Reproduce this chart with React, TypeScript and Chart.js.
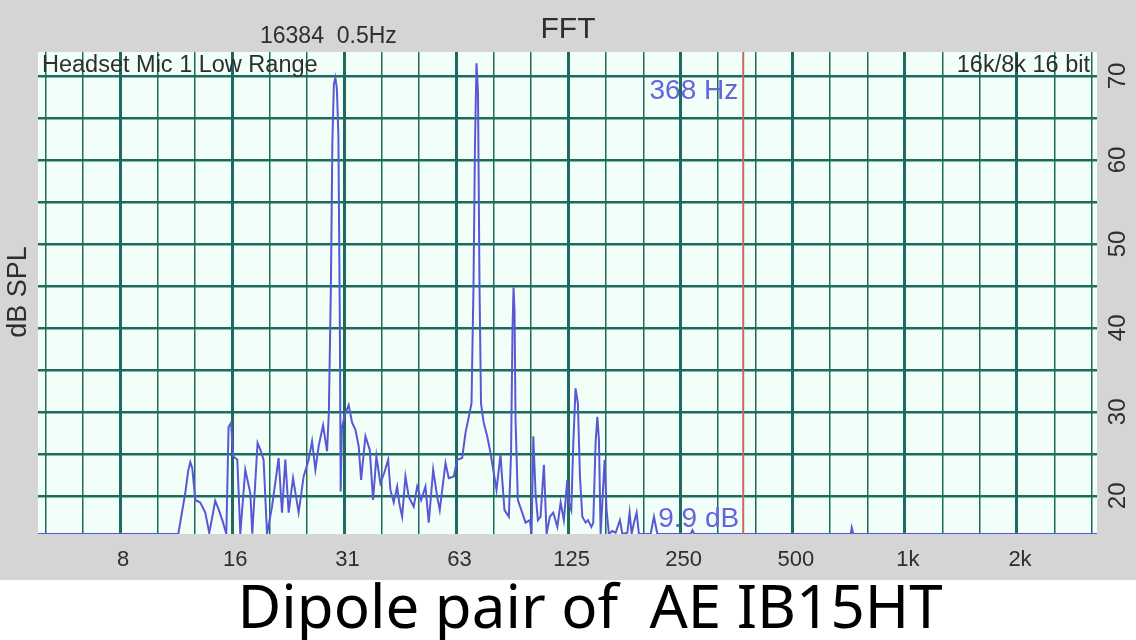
import React, { useEffect, useRef } from 'react';
import { Chart, registerables } from 'chart.js';

Chart.register(...registerables);

const W = 1136;
const H = 640;

// Spectrum trace (frequency in Hz, level in dB SPL); 15.45 = floor of the display
const freqHz = [
  4.7, 11.19, 11.68, 11.9, 12.05, 12.2, 12.43, 12.82, 13.22, 13.55, 13.81, 14.06, 14.33, 14.69, 15.06,
  15.27, 15.5, 15.72, 16.12, 16.42, 16.93, 17.47, 17.68, 18.27, 18.58, 18.96, 19.37, 19.98, 20.81, 21.25,
  21.69, 22.14, 22.75, 23.55, 24.29, 25.06, 25.59, 26.12, 26.65, 27.39, 28.08, 28.39, 28.75, 29.01, 29.28,
  29.56, 29.83, 30.11, 30.39, 30.54, 30.77, 31.25, 32.09, 32.78, 33.45, 34.14, 34.65, 35.59, 36.55, 37.32,
  38.09, 39.04, 40.03, 40.96, 41.54, 42.4, 43.3, 43.92, 44.66, 45.58, 46.53, 47.98, 49.01, 50.23, 51.59,
  52.65, 54.11, 55.47, 56.36, 58.39, 59.59, 61.47, 62.77, 64.74, 66.08, 67.44, 68.58, 69.43, 70.08, 70.73,
  71.39, 72.06, 72.73, 73.87, 75.57, 77.13, 78.44, 80.05, 82.05, 82.93, 84.11, 86.39, 87.57, 88.39, 88.94,
  89.49, 90.05, 91.34, 93.86, 95.8, 98.38, 99.42, 100.5, 101.9, 103.4, 105.1, 107.3, 109.1, 111.3, 113.7,
  116.6, 119.0, 121.4, 124.0, 125.2, 127.1, 128.7, 130.5, 132.4, 134.1, 136.1, 138.9, 140.9, 143.9, 145.6,
  147.7, 149.3, 150.8, 152.4, 156.2, 158.1, 160.4, 163.8, 167.2, 171.7, 174.3, 179.8, 182.3, 184.6, 187.3,
  190.4, 193.1, 207.6, 211.9, 216.4, 266, 268.8, 272, 716, 720, 727, 3280,
];
const splDb = [
  15.45, 15.45, 20.3, 23.0, 24.0, 23.3, 19.5, 19.2, 18.0, 15.6, 17.5, 19.4, 18.5, 17.1, 15.45,
  28.2, 28.7, 24.7, 24.3, 15.45, 23.1, 20.3, 15.5, 26.3, 25.5, 24.3, 15.45, 18.7, 24.5, 18.0,
  24.3, 18.0, 22.1, 18.0, 22.3, 24.3, 26.5, 23.1, 25.9, 28.4, 25.3, 30.0, 45.0, 62.0, 69.0,
  69.8, 68.5, 63.0, 40.0, 20.5, 28.0, 29.5, 30.8, 28.7, 27.9, 25.9, 21.9, 27.1, 25.5, 19.5,
  24.7, 21.5, 22.8, 24.3, 20.7, 19.2, 21.1, 19.0, 17.5, 22.3, 19.9, 18.7, 21.1, 19.5, 21.1,
  16.8, 23.1, 19.9, 18.3, 23.9, 22.1, 22.3, 24.3, 24.5, 27.5, 29.4, 31.0, 45.0, 62.0, 71.5,
  68.0, 45.0, 31.0, 28.8, 27.1, 25.1, 23.1, 20.7, 24.9, 21.9, 18.3, 17.5, 25.0, 40.0, 44.8,
  42.0, 29.0, 19.5, 18.0, 16.8, 17.1, 15.45, 27.1, 20.3, 17.1, 17.5, 23.7, 15.45, 17.5, 18.0,
  16.3, 19.2, 17.1, 21.9, 19.2, 18.3, 26.3, 32.8, 31.0, 22.3, 17.5, 16.8, 17.1, 16.3, 16.8,
  26.3, 29.4, 26.7, 15.45, 24.3, 18.3, 15.45, 15.8, 15.6, 17.1, 15.45, 15.6, 18.0, 15.45, 16.8,
  18.0, 15.45, 15.45, 17.5, 15.45, 15.45, 15.9, 15.45, 15.45, 16.2, 15.45, 15.45,
];

const octaveHz = [7.8125, 15.625, 31.25, 62.5, 125, 250, 500, 1000, 2000];
const xTickLabels = ['8', '16', '31', '63', '125', '250', '500', '1k', '2k'];
const yGridDb = [20, 25, 30, 35, 40, 45, 50, 55, 60, 65, 70];
const yTickLabels = ['20', '', '30', '', '40', '', '50', '', '60', '', '70'];

const markerHz = 368;
const markerFreqText = '368 Hz';
const markerLevelText = '9.9 dB';
const chartTitle = 'FFT';
const fftInfo = '16384  0.5Hz';
const inputInfo = 'Headset Mic 1 Low Range';
const formatInfo = '16k/8k 16 bit';
const yAxisTitle = 'dB SPL';
const caption = 'Dipole pair of  AE IB15HT';

const xMin = 4.7;
const xMax = 3280;
const yMin = 15.45;
const yMax = 72.85;

const FONT = '"Liberation Sans", Arial, Helvetica, sans-serif';
const GRID = '#1d6a5f';
const TEXT = '#2e2e2e';

const xGrid: number[] = [];
[3.90625, ...octaveHz, 4000].forEach((o) => {
  [1, Math.pow(2, 1 / 3), Math.pow(2, 2 / 3)].forEach((m) => {
    const v = o * m;
    if (v >= xMin && v <= xMax) xGrid.push(v);
  });
});

const octaveIndex = (v: number) => octaveHz.findIndex((o) => Math.abs(o - v) / o < 1e-6);

const overlay = {
  id: 'overlay',
  beforeDraw(chart: any) {
    const { ctx, chartArea: a } = chart;
    ctx.save();
    ctx.fillStyle = '#ffffff';
    ctx.fillRect(0, 0, W, H);
    ctx.fillStyle = '#d5d5d5';
    ctx.fillRect(0, 0, W, 580);
    ctx.fillStyle = '#f2fff8';
    ctx.fillRect(a.left, a.top, a.right - a.left, a.bottom - a.top);
    ctx.restore();
  },
  afterDatasetsDraw(chart: any) {
    const { ctx, chartArea: a, scales } = chart;
    const mx = scales.x.getPixelForValue(markerHz);
    ctx.save();
    ctx.strokeStyle = 'rgb(200,105,95)';
    ctx.lineWidth = 2;
    ctx.beginPath();
    ctx.moveTo(mx, a.top);
    ctx.lineTo(mx, a.bottom);
    ctx.stroke();
    ctx.fillStyle = '#6464dc';
    ctx.font = `28px ${FONT}`;
    ctx.textAlign = 'right';
    ctx.textBaseline = 'alphabetic';
    ctx.fillText(markerFreqText, mx - 5, a.top + 47);
    ctx.fillText(markerLevelText, mx - 4, a.bottom - 7);
    ctx.restore();
  },
  afterDraw(chart: any) {
    const { ctx, chartArea: a } = chart;
    ctx.save();
    ctx.fillStyle = TEXT;
    ctx.textBaseline = 'alphabetic';
    ctx.font = `30px ${FONT}`;
    ctx.textAlign = 'center';
    ctx.fillText(chartTitle, 568, 38);
    ctx.font = `23px ${FONT}`;
    ctx.textAlign = 'left';
    ctx.fillText(fftInfo, 260, 43);
    ctx.font = `23.5px ${FONT}`;
    ctx.fillText(inputInfo, a.left + 4, a.top + 20);
    ctx.textAlign = 'right';
    ctx.fillText(formatInfo, a.right - 7, a.top + 20);
    ctx.save();
    ctx.translate(19, 292);
    ctx.rotate(-Math.PI / 2);
    ctx.font = `27px ${FONT}`;
    ctx.textAlign = 'center';
    ctx.textBaseline = 'middle';
    ctx.fillText(yAxisTitle, 0, 0);
    ctx.restore();
    ctx.fillStyle = '#000000';
    ctx.font = '60px "Noto Sans", "Open Sans", sans-serif';
    ctx.textAlign = 'center';
    ctx.fillText(caption, 590, 628);
    ctx.restore();
  },
};

export default function App() {
  const ref = useRef<HTMLCanvasElement>(null);
  useEffect(() => {
    const canvas = ref.current;
    if (!canvas) return;
    const chart = new Chart(canvas, {
      type: 'line',
      data: {
        datasets: [
          {
            data: freqHz.map((f, i) => ({ x: f, y: splDb[i] })),
            borderColor: '#5858d4',
            borderWidth: 2,
            pointRadius: 0,
            tension: 0,
            fill: false,
          },
        ],
      },
      options: {
        responsive: false,
        animation: false,
        devicePixelRatio: 1,
        layout: { padding: { left: 38, top: 52, right: 0, bottom: 60 } },
        plugins: {
          legend: { display: false },
          tooltip: { enabled: false },
          title: { display: false },
        },
        scales: {
          x: {
            type: 'logarithmic',
            min: xMin,
            max: xMax,
            position: 'bottom',
            afterBuildTicks: (s: any) => {
              s.ticks = xGrid.map((v) => ({ value: v }));
            },
            afterFit: (s: any) => {
              s.height = 46;
            },
            ticks: {
              autoSkip: false,
              maxRotation: 0,
              minRotation: 0,
              padding: 13,
              labelOffset: 3,
              color: TEXT,
              font: { family: FONT, size: 22 },
              callback: (v: any) => {
                const i = octaveIndex(Number(v));
                return i >= 0 ? xTickLabels[i] : '';
              },
            },
            grid: {
              color: GRID,
              lineWidth: (c: any) => (c.tick && octaveIndex(c.tick.value) >= 0 ? 3 : 1.5),
              drawTicks: false,
            },
            border: { display: false },
          },
          y: {
            type: 'linear',
            min: yMin,
            max: yMax,
            position: 'right',
            afterBuildTicks: (s: any) => {
              s.ticks = yGridDb.map((v) => ({ value: v }));
            },
            afterFit: (s: any) => {
              s.width = 39;
            },
            ticks: {
              autoSkip: false,
              minRotation: 90,
              maxRotation: 90,
              crossAlign: 'center',
              padding: 8,
              color: TEXT,
              font: { family: FONT, size: 24 },
              callback: (v: any) => {
                const i = yGridDb.indexOf(Number(v));
                return i >= 0 ? yTickLabels[i] : '';
              },
            },
            grid: { color: GRID, lineWidth: 2.5, drawTicks: false },
            border: { display: false },
          },
        },
      } as any,
      plugins: [overlay],
    });
    return () => chart.destroy();
  }, []);
  return (
    <div style={{ position: 'fixed', left: 0, top: 0, width: W, height: H }}>
      <canvas ref={ref} width={W} height={H} style={{ display: 'block', width: W, height: H }} />
    </div>
  );
}
